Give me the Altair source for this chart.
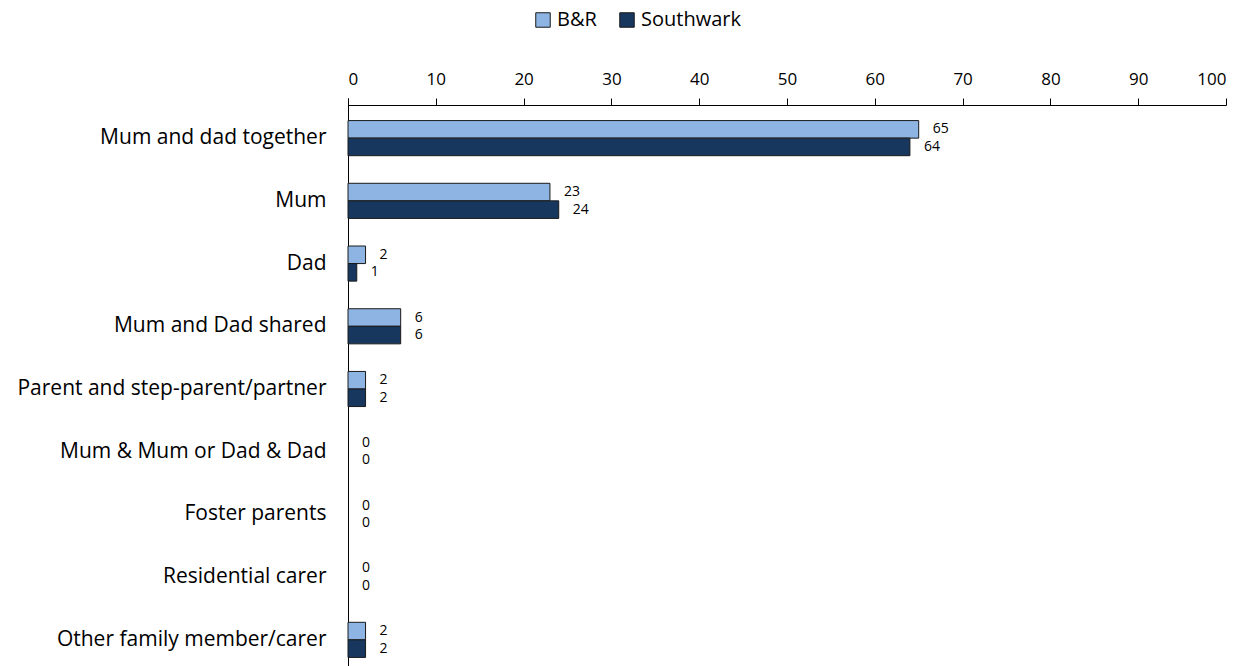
import altair as alt
import pandas as pd

categories = [
    "Mum and dad together",
    "Mum",
    "Dad",
    "Mum and Dad shared",
    "Parent and step-parent/partner",
    "Mum & Mum or Dad & Dad",
    "Foster parents",
    "Residential carer",
    "Other family member/carer",
]
br = [65, 23, 2, 6, 2, 0, 0, 0, 2]
southwark = [64, 24, 1, 6, 2, 0, 0, 0, 2]
series = ["B&R", "Southwark"]
colors = ["#8DB4E2", "#17375E"]
x_ticks = [0, 10, 20, 30, 40, 50, 60, 70, 80, 90, 100]

rows = []
for c, a, b in zip(categories, br, southwark):
    rows.append({"cat": c, "series": series[0], "value": a})
    rows.append({"cat": c, "series": series[1], "value": b})
df = pd.DataFrame(rows)

FONT = "Open Sans"

x = alt.X(
    "value:Q",
    scale=alt.Scale(domain=[0, 100], nice=False),
    axis=alt.Axis(
        orient="top", values=x_ticks, tickSize=7, grid=False, title=None,
        labelFontSize=17, labelFont=FONT, labelColor="#000", labelPadding=10,
        domainColor="#000", tickColor="#000", domainWidth=1, tickWidth=1,
    ),
)
y = alt.Y(
    "cat:N",
    sort=categories,
    scale=alt.Scale(domain=categories, range=[-7, 575], paddingInner=0.44, paddingOuter=0.36),
    axis=alt.Axis(
        title=None, ticks=False, labelFontSize=21, labelFont=FONT, labelColor="#000",
        labelPadding=22, labelLimit=500, domainColor="#000", domainWidth=1,
    ),
)
yoff = alt.YOffset("series:N", scale=alt.Scale(domain=series))

bars = alt.Chart(df).transform_filter("datum.value > 0").mark_bar(
    stroke="#1a1a1a", strokeWidth=1
).encode(
    x=x,
    y=y,
    yOffset=yoff,
    color=alt.Color(
        "series:N",
        scale=alt.Scale(domain=series, range=colors),
        legend=alt.Legend(
            title=None, orient="none", direction="horizontal",
            legendX=185, legendY=-95, symbolType="square", symbolSize=210,
            symbolStrokeColor="#1a1a1a", symbolStrokeWidth=1, symbolOpacity=1,
            labelFontSize=20, labelFont=FONT, labelColor="#000",
            columnPadding=20, labelOffset=4,
        ),
    ),
)

labels = alt.Chart(df).mark_text(
    align="left", baseline="middle", dx=14, fontSize=14, font=FONT, color="#000"
).encode(
    x=x,
    y=y,
    yOffset=yoff,
    text="value:Q",
)

chart = (bars + labels).properties(
    width=878,
    height=561,
    background="white",
    autosize=alt.AutoSizeParams(type="none"),
    padding={"left": 348, "top": 105, "right": 20, "bottom": 0},
).configure_view(stroke=None, strokeWidth=0)

chart.save("out.html", embed_options={"renderer": "svg", "actions": False})
